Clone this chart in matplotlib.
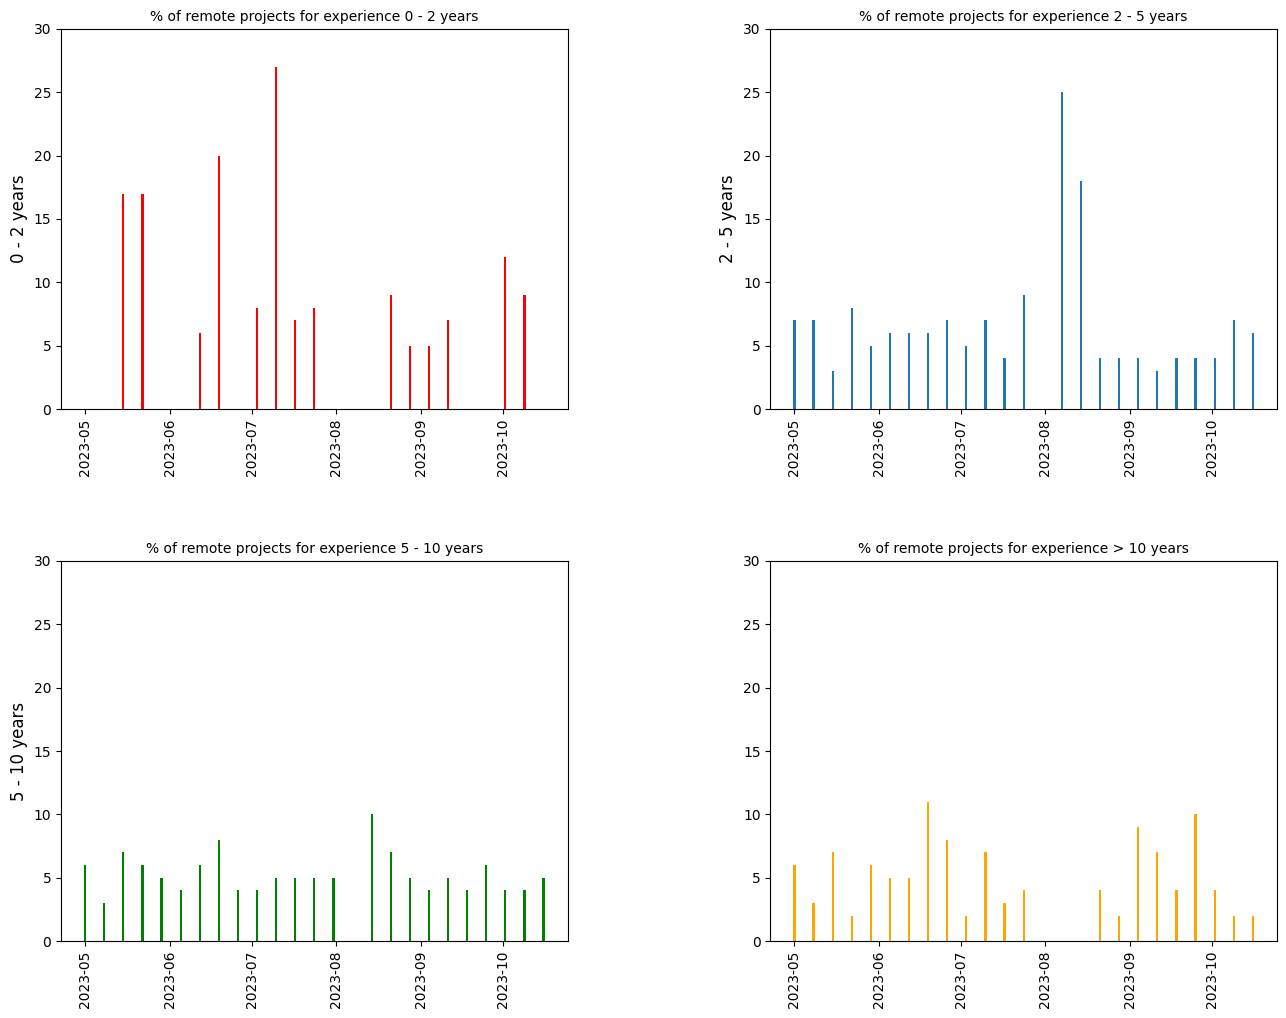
import matplotlib
matplotlib.use("Agg")
import matplotlib.pyplot as plt
import pandas as pd

dates = pd.date_range("2023-05-01", "2023-10-16", freq="7D")

exp_0_2 = [0, 0, 17, 17, 0, 0, 6, 20, 0, 8, 27, 7, 8, 0, 0, 0, 9, 5, 5, 7, 0, 0, 12, 9, 0]
exp_2_5 = [7, 7, 3, 8, 5, 6, 6, 6, 7, 5, 7, 4, 9, 0, 25, 18, 4, 4, 4, 3, 4, 4, 4, 7, 6]
exp_5_10 = [6, 3, 7, 6, 5, 4, 6, 8, 4, 4, 5, 5, 5, 5, 0, 10, 7, 5, 4, 5, 4, 6, 4, 4, 5]
exp_10p = [6, 3, 7, 2, 6, 5, 5, 11, 8, 2, 7, 3, 4, 0, 0, 0, 4, 2, 9, 7, 4, 10, 4, 2, 2]

groups = ["0 - 2 years", "2 - 5 years", "5 - 10 years", "> 10 years"]
series = [exp_0_2, exp_2_5, exp_5_10, exp_10p]
colors = ["red", "#1f77b4", "green", "orange"]
ylabels = ["0 - 2 years", "2 - 5 years", "5 - 10 years", None]

fig, axes = plt.subplots(2, 2, figsize=(12.86, 10.18), dpi=100)
fig.subplots_adjust(left=61/1286, right=1277/1286, top=1-29/1018, bottom=1-941/1018,
                    wspace=0.4, hspace=0.4)

for ax, g, vals, c, yl in zip(axes.flat, groups, series, colors, ylabels):
    ax.bar(dates, vals, color=c)
    ax.set_title(f"% of remote projects for experience {g}", fontsize=10)
    ax.set_ylim(0, 30)
    if yl:
        ax.set_ylabel(yl, fontsize=12)
    ax.tick_params(axis="x", rotation=90)

fig.savefig("out.png", dpi=100)
